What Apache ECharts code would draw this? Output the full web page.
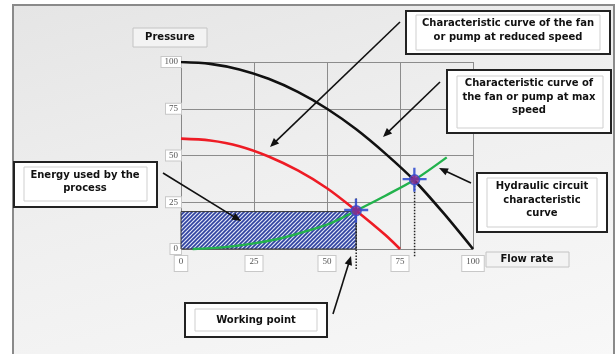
<!DOCTYPE html>
<html><head><meta charset="utf-8">
<script src="https://cdn.jsdelivr.net/npm/echarts@6/dist/echarts.min.js"></script>
<style>
html,body{margin:0;padding:0;background:#fff;width:616px;height:354px;overflow:hidden}
#bg{position:absolute;left:12px;top:4px;width:599px;height:352px;border-left:2px solid #8a8a8a;border-top:2px solid #8a8a8a;border-right:2px solid #8a8a8a;background:linear-gradient(165deg,#e5e5e5 0%,#efefef 45%,#f8f8f8 100%)}
#c{position:absolute;left:0;top:0;width:616px;height:354px}
</style>
</head><body><div id="bg"></div><div id="c"></div>
<script>
// ---- data ----
const xTicks = [0, 25, 50, 75, 100];
const yTicks = [0, 25, 50, 75, 100];
const maxSpeed = [[0,100],[10,99],[20,96],[30,91],[40,84],[50,75],[60,64],[70,51],[80,36.5],[90,19],[100,0]];
const reducedSpeed = [[0,59],[10,58],[20,55],[30,49.5],[40,42],[50,32.5],[60,20.5],[70,7.5],[75,0]];
const hydraulic = [[4,0],[15,1],[25,3],[35,6],[45,10.5],[50,13],[55,16.5],[60,20.5],[70,28.5],[80,37],[91,49]];
const workingPoints = [[60,20.5],[80,37]];
const energyArea = [[0,0],[60,20]];
const dropLineA = [[60,27],[60,-11]];
const dropLineB = [[80,37],[80,-4]];

// hatch pattern
const pc = document.createElement('canvas');
pc.width = 4; pc.height = 4;
const g = pc.getContext('2d');
g.fillStyle = '#dfe4f6'; g.fillRect(0,0,4,4);
g.strokeStyle = '#2f42a0'; g.lineWidth = 1.6;
g.beginPath();
g.moveTo(-1,5); g.lineTo(5,-1);
g.moveTo(-1,1); g.lineTo(1,-1);
g.moveTo(3,5); g.lineTo(5,3);
g.stroke();

const FONT = 'bold 10px "DejaVu Sans"';
function txt(x, y, text) {
  return {type:'text', x:x, y:y, z:110, style:{text:text, font:FONT, fill:'#111', align:'center', verticalAlign:'middle', lineHeight:13.5}};
}
function dbox(x1,y1,x2,y2, ix1,iy1,ix2,iy2) {
  return [
    {type:'rect', z:100, shape:{x:x1,y:y1,width:x2-x1,height:y2-y1}, style:{fill:'#fff', stroke:'#222', lineWidth:2}},
    {type:'rect', z:101, shape:{x:ix1,y:iy1,width:ix2-ix1,height:iy2-iy1}, style:{fill:'#fff', stroke:'#cfcfcf', lineWidth:1}}
  ];
}
function sbox(x1,y1,x2,y2) {
  return {type:'rect', z:100, shape:{x:x1,y:y1,width:x2-x1,height:y2-y1}, style:{fill:'#f3f3f3', stroke:'#c4c4c4', lineWidth:1}};
}
function arrow(x1,y1,x2,y2) {
  const dx=x2-x1, dy=y2-y1, L=Math.hypot(dx,dy), ux=dx/L, uy=dy/L;
  const hl=9, hw=3.8, bx=x2-ux*hl, by=y2-uy*hl, px=-uy, py=ux;
  return [
    {type:'line', z:105, shape:{x1:x1,y1:y1,x2:bx+ux*2,y2:by+uy*2}, style:{stroke:'#111', lineWidth:1.6}},
    {type:'polygon', z:105, shape:{points:[[x2,y2],[bx+px*hw,by+py*hw],[bx-px*hw,by-py*hw]]}, style:{fill:'#111'}}
  ];
}

const graphics = [].concat(
  sbox(133,28,207,47), txt(170,37.5,'Pressure'),
  sbox(486,252,569,267), txt(527,259.5,'Flow rate'),
  dbox(406,11,610,54, 416,15,600,50), txt(508,30.5,'Characteristic curve of the fan\nor pump at reduced speed'),
  dbox(447,70,611,133, 457,76,603,128), txt(529,97,'Characteristic curve of\nthe fan or pump at max\nspeed'),
  dbox(477,173,607,232, 487,178,597,227), txt(542,200,'Hydraulic circuit\ncharacteristic\ncurve'),
  dbox(14,162,157,207, 24,167,147,201), txt(85,182,'Energy used by the\nprocess'),
  dbox(185,303,327,337, 195,309,317,331), txt(256,320,'Working point'),
  arrow(400,22,270,147),
  arrow(440,82,383,137),
  arrow(471,183,439,168),
  arrow(163,173,241,221),
  arrow(333,314,351,256)
);

const lbl = {fontFamily:'"Liberation Serif"', fontSize:9, color:'#555', backgroundColor:'#fff', borderColor:'#c8c8c8', borderWidth:1};

const chart = echarts.init(document.getElementById('c'), null, {renderer:'canvas'});
chart.setOption({
  animation:false,
  backgroundColor:'transparent',
  grid:{left:181, top:62, width:292, height:187},
  xAxis:{type:'value', min:xTicks[0], max:xTicks[xTicks.length-1], interval:25,
    axisLine:{show:true, lineStyle:{color:'#888', width:1}}, axisTick:{show:false},
    splitLine:{show:true, lineStyle:{color:'#8c8c8c', width:1}},
    axisLabel:Object.assign({margin:7, padding:[1,4,5,4]}, lbl)},
  yAxis:{type:'value', min:yTicks[0], max:yTicks[yTicks.length-1], interval:25,
    axisLine:{show:true, lineStyle:{color:'#888', width:1}}, axisTick:{show:false},
    splitLine:{show:true, lineStyle:{color:'#8c8c8c', width:1}},
    axisLabel:Object.assign({margin:0, padding:[1,3,0,3]}, lbl)},
  series:[
    {type:'line', data:[], markArea:{silent:true, itemStyle:{color:{image:pc, repeat:'repeat'}, borderColor:'#333', borderWidth:1},
      data:[[{coord:energyArea[0]},{coord:energyArea[1]}]]}},
    {type:'line', data:dropLineA, symbol:'none', clip:false, z:3, lineStyle:{color:'#222', width:1.5, type:[1.5,1.5]}},
    {type:'line', data:dropLineB, symbol:'none', clip:false, z:3, lineStyle:{color:'#222', width:1.5, type:[1.5,1.5]}},
    {type:'line', data:maxSpeed, smooth:0.3, symbol:'none', z:4, lineStyle:{color:'#111', width:2.6}},
    {type:'line', data:hydraulic, smooth:0.3, symbol:'none', clip:false, z:4, lineStyle:{color:'#22b24c', width:2.4}},
    {type:'line', data:reducedSpeed, smooth:0.3, symbol:'none', z:5, lineStyle:{color:'#ee1c25', width:2.6}},
    {type:'scatter', data:workingPoints, z:6, symbol:'path://M0,11 L26,11 L26,13.5 L0,13.5 Z M11.5,0 L14,0 L14,26 L11.5,26 Z', symbolSize:24, itemStyle:{color:'#3450d0', opacity:0.9}},
    {type:'scatter', data:workingPoints, z:7, symbol:'circle', symbolSize:10, itemStyle:{color:'#8a2a8c', borderColor:'#3450d0', borderWidth:1.5}}
  ],
  graphic:graphics
});
</script>
</body></html>
